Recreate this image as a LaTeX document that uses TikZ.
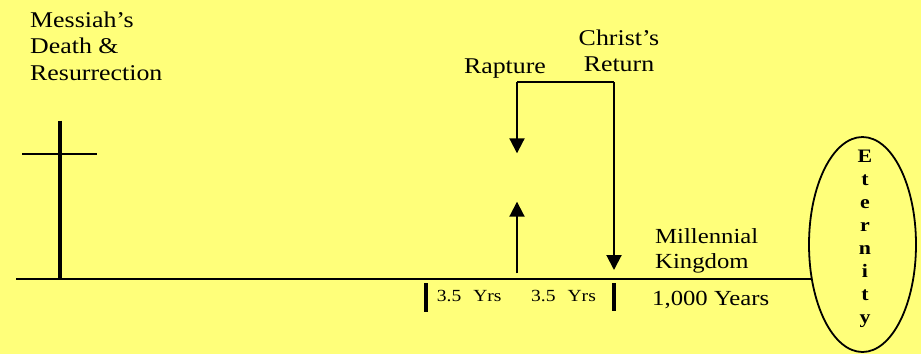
\documentclass[tikz,border=0pt]{standalone}
\usepackage{fontspec}
\setmainfont{Liberation Serif}[FakeStretch=1.15]
\usetikzlibrary{arrows.meta,positioning,shapes.geometric}
\definecolor{paper}{RGB}{255,255,122}

\begin{document}
\begin{tikzpicture}[
  x=1pt,y=-1pt,
  heading/.style={inner sep=0pt,align=left,font=\fontsize{22.5}{26.5}\selectfont},
  yrs/.style={inner sep=0pt,font=\fontsize{17}{20}\selectfont},
  axis/.style={line width=2pt},
  bar/.style={line width=1.5pt},
  flow/.style={-{Triangle[length=15pt,width=15pt]},line width=2pt},
  tick/.style={line width=4pt},
  era/.style={draw,ellipse,line width=1.8pt,minimum width=107pt,minimum height=215pt,inner sep=0pt},
  letters/.style={inner sep=0pt,align=center,font=\fontsize{19}{23}\selectfont\bfseries}
]
  \useasboundingbox (0,0) rectangle (921,354);
  \fill[paper] (0,0) rectangle (921,354);

  \node[heading,anchor=base west] (messiah) at (30,80) {Messiah's\\Death \&\\Resurrection};
  \node[heading,anchor=base,align=center] (return) at (619,71.7) {Christ's\\Return};
  \node[heading,anchor=base] (rapture) at (505,73.3) {Rapture};
  \node[heading,anchor=base west,font=\fontsize{21.5}{25}\selectfont] (kingdom) at (655,268.3) {Millennial\\Kingdom};
  \node[heading,anchor=base west,font=\fontsize{21.5}{25}\selectfont] (thousand) at (652,305) {1,000 Years};
  \node[yrs,anchor=base west] (firsthalf) at (436.7,301.7) {3.5\hspace{12pt}Yrs};
  \node[yrs,anchor=base west] (secondhalf) at (531,301.7) {3.5\hspace{12pt}Yrs};

  \node[era] (eternity) at (862.5,244.5) {};
  \node[letters] (word) at (865,239) {E\\t\\e\\r\\n\\i\\t\\y};

  \coordinate (start) at (16,278.5);
  \draw[axis] (start) -- (start -| eternity.214);

  \draw[line width=4.5pt] (60,120.5) -- (60,280);
  \draw[axis] (22,154.3) -- (97,154.3);

  \coordinate (raptop) at (517,82);
  \coordinate (rettop) at (614,82);
  \coordinate (rapdown) at (517,153.3);
  \coordinate (rapfoot) at (517,273.3);
  \coordinate (rapup) at (517,201.7);
  \coordinate (retdown) at (614,270);
  \draw[bar] (raptop) -- (rettop);
  \draw[flow] (raptop) -- (rapdown);
  \draw[flow] (rapfoot) -- (rapup);
  \draw[flow] (rettop) -- (retdown);

  \draw[tick] (426,283) -- (426,312);
  \draw[tick] (614,283) -- (614,311);
\end{tikzpicture}
\end{document}
